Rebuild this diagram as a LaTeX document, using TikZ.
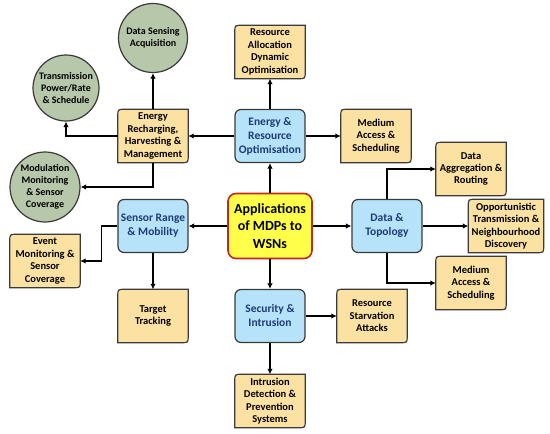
\documentclass[tikz,border=0pt]{standalone}
\usepackage{fontspec}
\setmainfont{Carlito}
\usetikzlibrary{arrows.meta,backgrounds,calc}
\definecolor{yfill}{HTML}{FBE2A2}
\definecolor{bfill}{HTML}{B7E3FA}
\definecolor{btext}{HTML}{1F3A78}
\definecolor{gfill}{HTML}{B7C7AA}
\definecolor{cfill}{HTML}{FFFF4A}
\definecolor{cedge}{HTML}{C0281E}
\definecolor{edge}{HTML}{3A3A3A}
\begin{document}
\begin{tikzpicture}[x=1pt,y=-1pt,
  base/.style={align=center, inner sep=0pt, text=black,
    font=\bfseries\fontsize{10.5}{12.4}\selectfont},
  ybox/.style={base, minimum width=70pt, minimum height=53pt},
  bbox/.style={base, draw=edge, fill=bfill, rounded corners=6pt, line width=1.2pt,
    minimum width=70pt, minimum height=53pt, text=btext,
    font=\bfseries\fontsize{11.5}{14}\selectfont},
  gcirc/.style={base, circle, draw=edge, fill=gfill, line width=1.2pt, minimum size=69pt,
    font=\bfseries\fontsize{10}{12}\selectfont},
  cbox/.style={base, draw=cedge, fill=cfill, rounded corners=8pt, line width=1.6pt,
    minimum width=84pt, minimum height=65pt, font=\bfseries\fontsize{14}{17.5}\selectfont},
  yline/.style={draw=edge, fill=yfill, line width=1.2pt},
  conn/.style={line width=1.6pt, draw=black, -{Latex[length=5.5pt,width=5.5pt]}}]
\useasboundingbox (0,0) rectangle (550,434);

% centre and blue hubs
\node[cbox] (c) at (270,226) {Applications\\of MDPs to\\WSNs};
\node[bbox] (er) at (270,136) {Energy \&\\Resource\\Optimisation};
\node[bbox] (sr) at (153,226) {Sensor Range\\\& Mobility};
\node[bbox] (dt) at (387,226) {Data \&\\Topology};
\node[bbox] (si) at (270,316) {Security \&\\Intrusion};

% yellow boxes
\node[ybox] (ra) at (270,52) {Resource\\Allocation\\Dynamic\\Optimisation};
\node[ybox] (ech) at (153,136) {Energy\\Recharging,\\Harvesting \&\\Management};
\node[ybox] (ma1) at (376,136) {Medium\\Access \&\\Scheduling};
\node[ybox] (da) at (471,169) {Data\\Aggregation \&\\Routing};
\node[ybox, minimum width=75pt] (ot) at (506,226) {Opportunistic\\Transmission \&\\Neighbourhood\\Discovery};
\node[ybox] (ma2) at (471,283) {Medium\\Access \&\\Scheduling};
\node[ybox] (ev) at (45,261) {Event\\Monitoring \&\\Sensor\\Coverage};
\node[ybox] (tt) at (153,316) {Target\\Tracking};
\node[ybox] (rs) at (372,316) {Resource\\Starvation\\Attacks};
\node[ybox] (id) at (270,401) {Intrusion\\Detection \&\\Prevention\\Systems};

% green circles
\node[gcirc] (ds) at (153,38) {Data Sensing\\Acquisition};
\node[gcirc, minimum size=66pt] (tx) at (66,88) {Transmission\\Power/Rate\\\& Schedule};
\node[gcirc, minimum size=70pt] (mod) at (45,187) {Modulation\\Monitoring\\\& Sensor\\Coverage};

% yellow box outlines (rounded top-left and bottom-right corners)
\begin{pgfonlayer}{background}
\foreach \n in {ra,ech,ma1,da,ot,ma2,ev,tt,rs,id}{
  \path[yline] ($(\n.north west)+(0,7)$) .. controls (\n.north west) .. ($(\n.north west)+(7,0)$)
    -- (\n.north east) -- ($(\n.south east)+(0,-7)$)
    .. controls (\n.south east) .. ($(\n.south east)+(-7,0)$)
    -- (\n.south west) -- cycle;
}
\end{pgfonlayer}

% connectors
\draw[conn] (c.north) -- (er.south);
\draw[conn] (c.west) -- (sr.east);
\draw[conn] (c.east) -- (dt.west);
\draw[conn] (c.south) -- (si.north);

\draw[conn] (er.north) -- (ra.south);
\draw[conn] (er.west) -- (ech.east);
\draw[conn] (er.east) -- (ma1.west);

\draw[conn] (ech.north) -- (ds.south);
\draw[conn] (ech.west) -| (tx.south);
\draw[conn] (ech.south) |- (mod.east);

\draw[conn] (sr.west) -- ++(-16,0) |- (ev.east);
\draw[conn] (sr.south) -- (tt.north);

\draw[conn] (dt.north) |- (da.west);
\draw[conn] (dt.east) -- (ot.west);
\draw[conn] (dt.south) |- (ma2.west);

\draw[conn] (si.east) -- (rs.west);
\draw[conn] (si.south) -- (id.north);
\end{tikzpicture}
\end{document}
